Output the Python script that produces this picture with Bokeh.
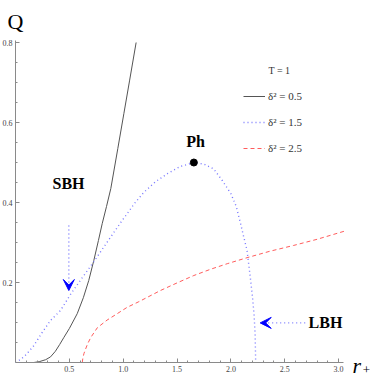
from bokeh.plotting import figure
from bokeh.models import (Range1d, FixedTicker, NumeralTickFormatter, Label, Legend,
                          LegendItem, Arrow, VeeHead, ColumnDataSource)
from bokeh.embed import file_html
from bokeh.resources import INLINE

# ---------------- data ----------------
# delta^2 = 0.5 (solid)
r_d05 = [0.17, 0.22, 0.28, 0.325, 0.37, 0.41, 0.45, 0.50, 0.573, 0.63, 0.68, 0.727,
         0.77, 0.805, 0.845, 0.885, 0.95, 1.006, 1.06, 1.12]
q_d05 = [0.0, 0.002, 0.007, 0.014, 0.028, 0.045, 0.063, 0.085, 0.122, 0.162, 0.205, 0.255,
         0.305, 0.347, 0.39, 0.435, 0.535, 0.622, 0.706, 0.80]
# delta^2 = 1.5 (dotted)
r_d15 = [0.0, 0.05, 0.10, 0.17, 0.25, 0.325, 0.418, 0.51, 0.62, 0.727, 0.882, 0.99, 1.037,
         1.10, 1.19, 1.30, 1.41, 1.53, 1.656, 1.75, 1.84, 1.92, 2.0, 2.05, 2.09, 2.12, 2.15,
         2.18, 2.20, 2.215, 2.225, 2.23]
q_d15 = [0.0, 0.008, 0.02, 0.042, 0.076, 0.105, 0.13, 0.17, 0.212, 0.252, 0.313, 0.355, 0.372,
         0.396, 0.425, 0.452, 0.472, 0.49, 0.50, 0.496, 0.484, 0.455, 0.422, 0.39, 0.347,
         0.313, 0.28, 0.213, 0.165, 0.12, 0.07, 0.0]
# delta^2 = 2.5 (dashed)
r_d25 = [0.62, 0.625, 0.635, 0.65, 0.67, 0.70, 0.73, 0.76, 0.85, 0.944, 1.037, 1.145, 1.346,
         1.5, 1.656, 1.81, 1.966, 2.15, 2.36, 2.58, 2.8, 3.05]
q_d25 = [0.0, 0.01, 0.022, 0.033, 0.047, 0.063, 0.075, 0.087, 0.106, 0.122, 0.138, 0.152, 0.18,
         0.199, 0.2175, 0.233, 0.247, 0.262, 0.278, 0.2925, 0.308, 0.328]
series_labels = ["\u03b4\u00b2 = 0.5", "\u03b4\u00b2 = 1.5", "\u03b4\u00b2 = 2.5"]

# phase point
ph_r = [1.656]
ph_q = [0.50]

# arrows (SBH, LBH)
arrow_x_start = [0.495, 2.69]
arrow_y_start = [0.3425, 0.099]
arrow_x_end = [0.495, 2.272]
arrow_y_end = [0.18, 0.099]

x_ticks = [0.5, 1.0, 1.5, 2.0, 2.5, 3.0]
y_ticks = [0.2, 0.4, 0.6, 0.8]
x_minor = [round(0.1 * i, 1) for i in range(1, 31)]
y_minor = [round(0.05 * i, 2) for i in range(1, 17)]

# ---------------- figure ----------------
W, H = 374, 378
p = figure(width=W, height=H, output_backend="svg", toolbar_location=None,
           x_range=Range1d(-0.1393, 3.3333), y_range=Range1d(-0.04, 0.905),
           min_border=0, min_border_left=0, min_border_right=0,
           min_border_top=0, min_border_bottom=0)
p.xgrid.visible = False
p.ygrid.visible = False
p.outline_line_color = None
p.background_fill_color = "white"

for ax in (p.xaxis[0], p.yaxis[0]):
    ax.axis_line_color = "#8a8a8a"
    ax.major_tick_line_color = "#8a8a8a"
    ax.minor_tick_line_color = "#8a8a8a"
    ax.major_tick_in = 4
    ax.major_tick_out = 0
    ax.minor_tick_in = 2
    ax.minor_tick_out = 0
    ax.major_label_text_font = "Liberation Serif"
    ax.major_label_text_font_size = "8px"
    ax.major_label_text_color = "#444444"
    ax.major_label_standoff = 3
    ax.formatter = NumeralTickFormatter(format="0.0")

p.xaxis.fixed_location = 0
p.yaxis.fixed_location = 0
p.xaxis.ticker = FixedTicker(ticks=x_ticks, minor_ticks=x_minor)
p.yaxis.ticker = FixedTicker(ticks=y_ticks, minor_ticks=y_minor)
p.xaxis.bounds = (0, 3.05)
p.yaxis.bounds = (0, 0.805)

l1 = p.line(r_d05, q_d05, line_color="#555555", line_width=1)
l2 = p.line(r_d15, q_d15, line_color="#7878ff", line_width=1.4, line_dash="1 3")
l3 = p.line(r_d25, q_d25, line_color="#ff5c5c", line_width=1, line_dash="4 3")

p.scatter(ph_r, ph_q, size=7, color="black")

arrow_src = ColumnDataSource(dict(x0=arrow_x_start, y0=arrow_y_start,
                                  x1=arrow_x_end, y1=arrow_y_end))
p.add_layout(Arrow(x_start="x0", y_start="y0", x_end="x1", y_end="y1", source=arrow_src,
                   line_color="#7878ff", line_width=1.4, line_dash="1 3",
                   end=VeeHead(size=11, fill_color="blue", line_color="blue", line_width=1)))

legend = Legend(items=[LegendItem(label=series_labels[0], renderers=[l1]),
                       LegendItem(label=series_labels[1], renderers=[l2]),
                       LegendItem(label=series_labels[2], renderers=[l3])],
                location=(243, 222), orientation="vertical",
                background_fill_alpha=0, border_line_color=None, padding=0, margin=0,
                spacing=10, glyph_width=22, glyph_height=16, label_height=16,
                label_standoff=3, label_text_font="Liberation Serif",
                label_text_font_size="11px", label_text_color="#333333")
p.add_layout(legend)

def lab(x, y, text, size, style="normal", align="center", baseline="middle", color="black"):
    p.add_layout(Label(x=x, y=y, text=text, text_font="Liberation Serif",
                       text_font_size=size, text_font_style=style, text_align=align,
                       text_baseline=baseline, text_color=color))

lab(2.349, 0.73, "T = 1", "10px", align="left", color="#333333")
lab(-0.0743, 0.8525, "Q", "22px", align="left", baseline="alphabetic")
lab(3.13, -0.0075, "r", "22px", style="italic", align="left", baseline="alphabetic")
lab(3.225, -0.0175, "+", "13px", align="left")
lab(0.492, 0.4475, "SBH", "16px", style="bold")
lab(1.671, 0.5525, "Ph", "16px", style="bold")
lab(2.878, 0.099, "LBH", "16px", style="bold")

open("out.html", "w").write(file_html(p, INLINE))
